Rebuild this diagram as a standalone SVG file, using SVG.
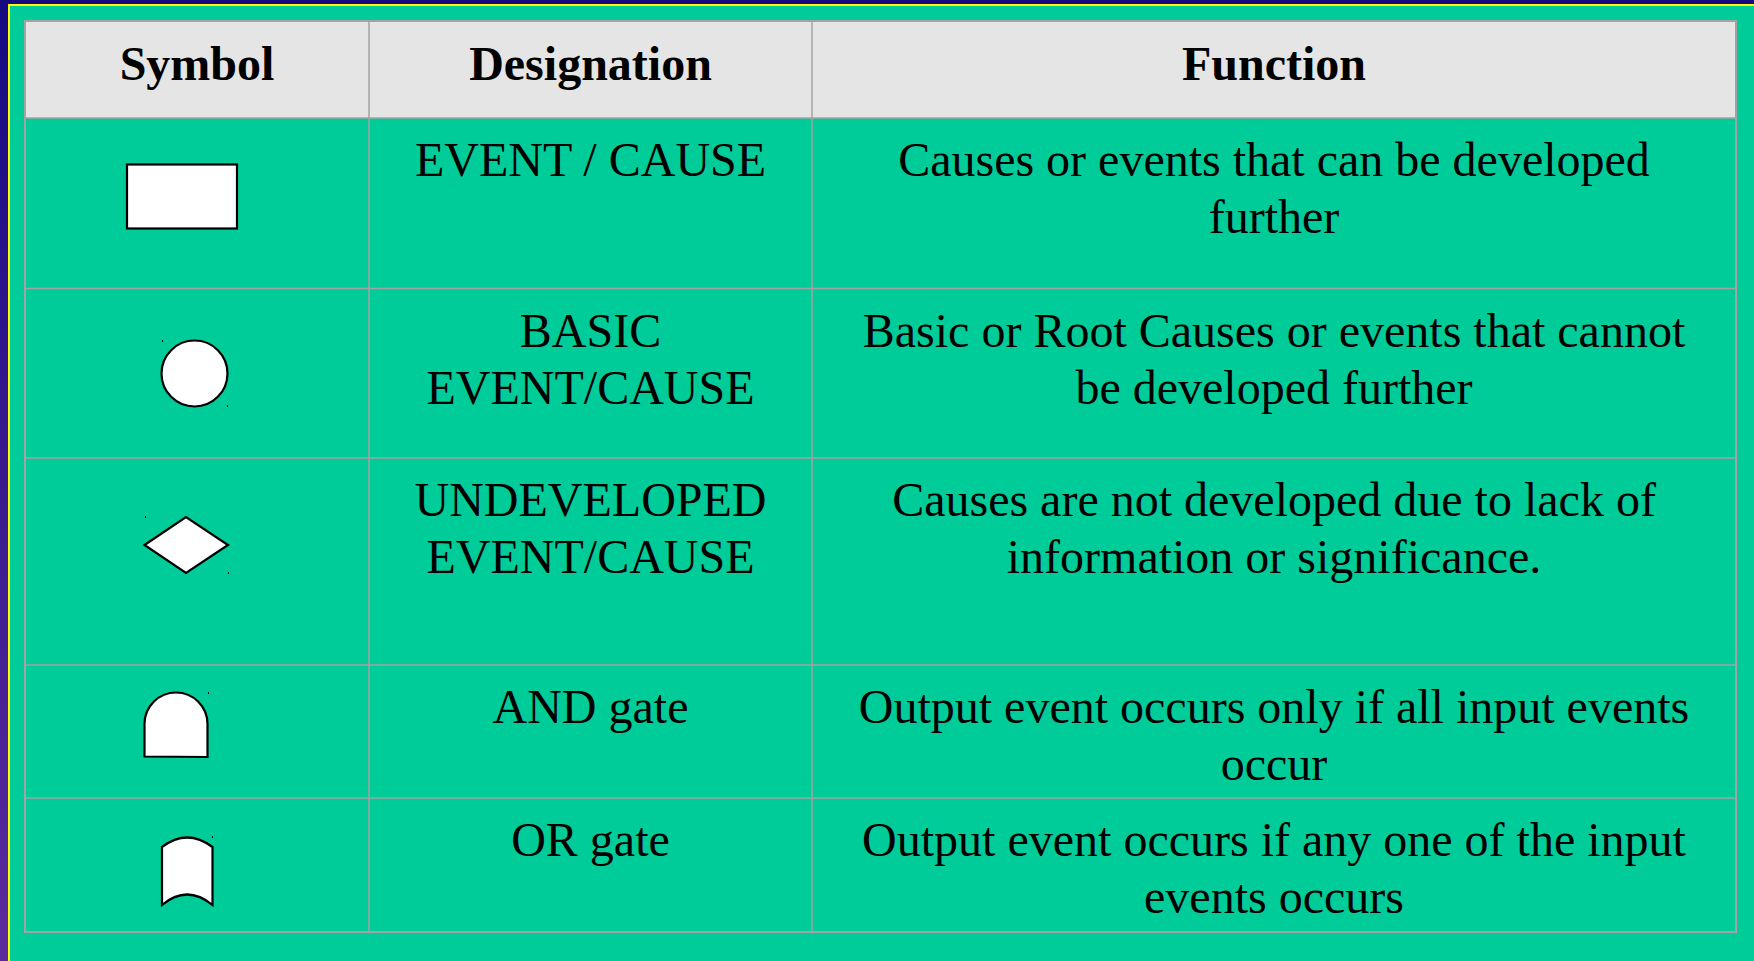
<svg xmlns="http://www.w3.org/2000/svg" width="1754" height="961" viewBox="0 0 1754 961">
<defs>
<linearGradient id="bg" x1="0" y1="0" x2="0" y2="1">
<stop offset="0" stop-color="#150a82"/>
<stop offset="1" stop-color="#5c2a9e"/>
</linearGradient>
</defs>
<style>
.grid{stroke:#a3a3a3;stroke-width:1.5;fill:none}
.sym{fill:#ffffff;stroke:#000000;stroke-width:2.2}
.hd{font-family:"Liberation Serif","Times New Roman",serif;font-size:48px;font-weight:bold;fill:#000;text-anchor:middle}
.tx{font-family:"Liberation Serif","Times New Roman",serif;font-size:48px;fill:#000;text-anchor:middle}
.dot{fill:#000}
</style>
<rect x="0" y="0" width="1754" height="961" fill="url(#bg)"/>
<rect x="9" y="5" width="1755" height="970" fill="#00cc99" stroke="#ffff00" stroke-width="2"/>
<g id="table">
<rect x="25" y="21" width="1711" height="97" fill="#e5e5e5"/>
<rect x="25" y="21" width="1711" height="911" fill="none" stroke="#a3a3a3" stroke-width="2"/>
<line class="grid" x1="369" y1="21" x2="369" y2="932"/>
<line class="grid" x1="812" y1="21" x2="812" y2="932"/>
<line class="grid" x1="25" y1="118" x2="1736" y2="118"/>
<line class="grid" x1="25" y1="288.5" x2="1736" y2="288.5"/>
<line class="grid" x1="25" y1="458" x2="1736" y2="458"/>
<line class="grid" x1="25" y1="665" x2="1736" y2="665"/>
<line class="grid" x1="25" y1="798" x2="1736" y2="798"/>
</g>
<g id="header">
<text class="hd" x="197" y="80">Symbol</text>
<text class="hd" x="590.5" y="79.5">Designation</text>
<text class="hd" x="1274" y="79.5">Function</text>
</g>
<g id="row-event">
<rect class="sym" x="127" y="164.5" width="110" height="64"/>
<text class="tx" x="590.5" y="176">EVENT / CAUSE</text>
<text class="tx" x="1274" y="176">Causes or events that can be developed</text>
<text class="tx" x="1274" y="233">further</text>
</g>
<g id="row-basic">
<circle class="sym" cx="194.5" cy="373.5" r="33"/>
<rect class="dot" x="162" y="340" width="1" height="2"/>
<rect class="dot" x="227" y="405" width="1" height="2"/>
<text class="tx" x="590.5" y="346.5">BASIC</text>
<text class="tx" x="590.5" y="403.5">EVENT/CAUSE</text>
<text class="tx" x="1274" y="346.5">Basic or Root Causes or events that cannot</text>
<text class="tx" x="1274" y="403.5">be developed further</text>
</g>
<g id="row-undeveloped">
<polygon class="sym" points="144.5,545 186,517 228,545 186,573"/>
<rect class="dot" x="145" y="516" width="1" height="2"/>
<rect class="dot" x="228" y="572" width="1" height="2"/>
<text class="tx" x="590.5" y="516">UNDEVELOPED</text>
<text class="tx" x="590.5" y="573">EVENT/CAUSE</text>
<text class="tx" x="1274" y="516">Causes are not developed due to lack of</text>
<text class="tx" x="1274" y="573">information or significance.</text>
</g>
<g id="row-and">
<path class="sym" d="M144.5,756.5 L144.5,724 A31.5,31.5 0 0 1 207.5,724 L207.5,757 Z"/>
<rect class="dot" x="208" y="692" width="1" height="2"/>
<text class="tx" x="590.5" y="723">AND gate</text>
<text class="tx" x="1274" y="723">Output event occurs only if all input events</text>
<text class="tx" x="1274" y="780">occur</text>
</g>
<g id="row-or">
<path class="sym" d="M162,905 L162,847 Q187,828 212.5,847 L212.5,905 Q187,884 162,905 Z"/>
<rect class="dot" x="212" y="836" width="1" height="2"/>
<text class="tx" x="590.5" y="856">OR gate</text>
<text class="tx" x="1274" y="856">Output event occurs if any one of the input</text>
<text class="tx" x="1274" y="913">events occurs</text>
</g>
</svg>
